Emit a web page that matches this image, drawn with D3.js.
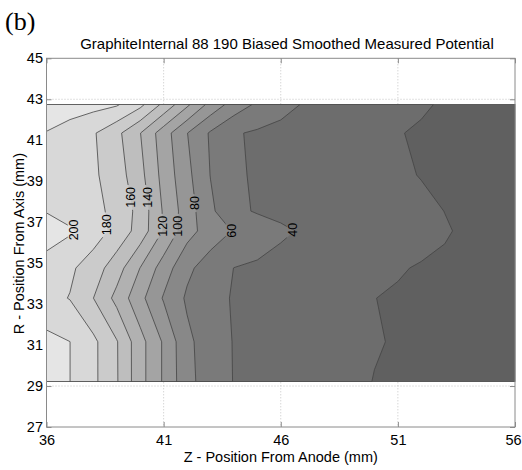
<!DOCTYPE html>
<html>
<head>
<meta charset="utf-8">
<script src="https://cdn.jsdelivr.net/npm/d3@7"></script>
<style>
  body { margin: 0; background: #fff; }
  text { font-family: "Liberation Sans", Arial, sans-serif; }
</style>
</head>
<body>
<svg id="chart"></svg>
<script>
// measurement grid: Z columns (mm from anode) and R rows (mm from axis)
const zValues = [36, 37, 38, 39, 40, 41, 42, 43, 44, 45, 46, 47, 48, 49, 50, 51, 52, 53, 54, 55, 56];
const rValues = [42.74, 41.35, 39.30, 37.54, 36.57, 34.76, 33.29, 31.16, 29.22];

// smoothed potential, one row per R value
const potential = [
  [215, 210.6, 206.3, 201.9, 185.2, 155, 123.7, 93.4, 71.4, 56.6, 46.2, 38.6, 35.2, 31.8, 28.4, 25, 21.6, 18.5, 17, 16, 15],
  [199, 190.5, 182, 165.1, 140.5, 109.3, 80.5, 57.7, 41.8, 37.5, 34.7, 31.9, 29, 26.2, 23.4, 20.6, 18.5, 17.5, 17, 16.5, 16],
  [196, 189.6, 183.2, 169.7, 146, 113.2, 85.3, 59.5, 42.8, 37.8, 35.1, 32.4, 29.7, 27, 24.3, 21.6, 19.6, 18.5, 18, 17, 16],
  [199, 192.1, 185.2, 174.9, 153, 117.7, 89.8, 63.9, 44.5, 38.3, 36, 33.7, 31.4, 29.1, 26.8, 24.6, 22.3, 19.9, 18.5, 17, 16],
  [210, 202.4, 189.8, 173.7, 151.6, 118.3, 87.7, 70.4, 58.8, 50.8, 42.7, 38.1, 35.2, 32.3, 29.5, 26.6, 23.7, 20.8, 18.4, 16.5, 14],
  [191.5, 183.4, 170, 148.9, 119.6, 90.4, 64.3, 50.4, 39.8, 37, 34.3, 31.6, 28.9, 26.2, 23.5, 20.8, 19.2, 18.5, 17.5, 16, 15],
  [186.5, 179.2, 160.1, 134.1, 105.7, 78.2, 57.1, 46, 38.6, 35.5, 32.4, 29.3, 26.2, 23.1, 20.1, 19, 18, 17, 16, 15, 14],
  [205, 200.1, 184.4, 161.3, 127.1, 97.5, 64.7, 49.1, 39.2, 36.1, 33, 29.9, 26.9, 23.8, 20.7, 19.2, 18.2, 17.2, 16.2, 15, 14],
  [205, 200.1, 184.4, 161.6, 127.1, 97.5, 66, 49.9, 39.4, 36, 32.6, 29.2, 25.8, 22.4, 19.7, 18.7, 17.8, 16.8, 16, 15, 14]
];

const levels = [20, 40, 60, 80, 100, 120, 140, 160, 180, 200];
// grey for each band: below 20, 20-40, ..., above 200
const bandColors = ['#606060', '#6d6d6d', '#7a7a7a', '#888888', '#969696', '#a4a4a4',
                    '#b1b1b1', '#bebebe', '#cbcbcb', '#d8d8d8', '#e5e5e5'];

const labelLevels = [200, 180, 160, 140, 120, 100, 80, 60, 40];
const labelR = [36.62, 36.87, 38.21, 38.21, 36.8, 36.8, 37.93, 36.58, 36.63];

const xTicks = [36, 41, 46, 51, 56];
const yTicks = [27, 29, 31, 33, 35, 37, 39, 41, 43, 45];

const W = 522, H = 470;
const plot = { left: 46.5, right: 515, top: 58.3, bottom: 427 };

const svg = d3.select('#chart').attr('width', W).attr('height', H);

const x = d3.scaleLinear().domain([36, 56]).range([plot.left, plot.right]);
const y = d3.scaleLinear().domain([27, 45]).range([plot.bottom, plot.top]);

// grid index space -> data space (d3.contours puts sample i at i + 0.5)
const colToZ = d3.scaleLinear().domain(zValues.map((d, i) => i + 0.5)).range(zValues).clamp(true);
const rowToR = d3.scaleLinear().domain(rValues.map((d, i) => i + 0.5)).range(rValues).clamp(true);

const toPx = (p) => [x(colToZ(p[0])), y(rowToR(p[1]))];
const path = d3.geoPath(d3.geoTransform({
  point(px, py) {
    const q = toPx([px, py]);
    this.stream.point(q[0], q[1]);
  }
}));

const contours = d3.contours()
  .size([zValues.length, rValues.length])
  .thresholds(levels)(potential.flat());

const dataLeft = x(zValues[0]), dataRight = x(zValues[zValues.length - 1]);
const dataTop = y(rValues[0]), dataBottom = y(rValues[rValues.length - 1]);

// axes background, grid, ticks (drawn under the filled contours)
svg.append('rect')
  .attr('x', plot.left).attr('y', plot.top)
  .attr('width', plot.right - plot.left).attr('height', plot.bottom - plot.top)
  .attr('fill', '#fff');

const gridG = svg.append('g')
  .attr('stroke', '#c4c4c4').attr('stroke-width', 1).attr('stroke-dasharray', '1,2');
gridG.selectAll('.gx').data(xTicks.slice(1, -1)).enter().append('line')
  .attr('x1', d => x(d)).attr('x2', d => x(d))
  .attr('y1', plot.top).attr('y2', plot.bottom);
gridG.selectAll('.gy').data(yTicks.slice(1, -1)).enter().append('line')
  .attr('y1', d => y(d)).attr('y2', d => y(d))
  .attr('x1', plot.left).attr('x2', plot.right);

const axisColor = '#8a8a8a';
const tickLen = 5;
const bottomAxis = d3.axisBottom(x).tickValues(xTicks).tickSizeInner(-tickLen).tickSizeOuter(0).tickPadding(8);
const topAxis = d3.axisTop(x).tickValues(xTicks).tickSizeInner(-tickLen).tickSizeOuter(0).tickFormat('');
const leftAxis = d3.axisLeft(y).tickValues(yTicks).tickSizeInner(-tickLen).tickSizeOuter(0).tickPadding(3.5);
const rightAxis = d3.axisRight(y).tickValues(yTicks).tickSizeInner(-tickLen).tickSizeOuter(0).tickFormat('');

function styleAxis(g) {
  g.select('.domain').remove();
  g.selectAll('line').attr('stroke', axisColor);
  g.selectAll('text').attr('fill', '#000').style('font-size', '14.5px')
    .style('font-family', '"Liberation Sans", Arial, sans-serif');
}

const xAxisG = svg.append('g').attr('transform', `translate(0,${plot.bottom})`).call(bottomAxis).call(styleAxis);
// last label sits on the page edge, keep it just inside
xAxisG.selectAll('.tick text').filter(d => d === xTicks[xTicks.length - 1]).attr('dx', -2);
svg.append('g').attr('transform', `translate(0,${plot.top})`).call(topAxis).call(styleAxis);
svg.append('g').attr('transform', `translate(${plot.left},0)`).call(leftAxis).call(styleAxis);
svg.append('g').attr('transform', `translate(${plot.right},0)`).call(rightAxis).call(styleAxis);

// filled contours
const fillG = svg.append('g');
fillG.append('rect')
  .attr('x', dataLeft).attr('y', dataTop)
  .attr('width', dataRight - dataLeft).attr('height', dataBottom - dataTop)
  .attr('fill', bandColors[0]);
fillG.selectAll('path').data(contours).enter().append('path')
  .attr('d', path)
  .attr('fill', (d, i) => bandColors[i + 1]);

// contour lines without the pieces that run along the data border
const near = (a, b) => Math.abs(a - b) < 1e-6;
function onBorder(a, b) {
  return (near(a[0], dataLeft) && near(b[0], dataLeft)) ||
         (near(a[0], dataRight) && near(b[0], dataRight)) ||
         (near(a[1], dataTop) && near(b[1], dataTop)) ||
         (near(a[1], dataBottom) && near(b[1], dataBottom));
}
function linePath(c) {
  let d = '';
  c.coordinates.forEach(poly => poly.forEach(ring => {
    const pts = ring.map(toPx);
    let open = false;
    for (let i = 1; i < pts.length; i++) {
      const a = pts[i - 1], b = pts[i];
      if (onBorder(a, b)) { open = false; continue; }
      if (!open) { d += `M${a[0]},${a[1]}`; open = true; }
      d += `L${b[0]},${b[1]}`;
    }
  }));
  return d;
}

// mask that opens gaps in the lines where the labels sit
const defs = svg.append('defs');
const mask = defs.append('mask').attr('id', 'label-gaps')
  .attr('maskUnits', 'userSpaceOnUse')
  .attr('x', 0).attr('y', 0).attr('width', W).attr('height', H);
mask.append('rect').attr('x', 0).attr('y', 0).attr('width', W).attr('height', H).attr('fill', '#fff');

const lineColor = '#444';
const lineG = svg.append('g').attr('mask', 'url(#label-gaps)');
lineG.selectAll('path').data(contours).enter().append('path')
  .attr('d', linePath)
  .attr('fill', 'none')
  .attr('stroke', lineColor)
  .attr('stroke-width', 0.8)
  .attr('stroke-linejoin', 'round');

// outline of the measured area
svg.append('rect')
  .attr('x', dataLeft).attr('y', dataTop)
  .attr('width', dataRight - dataLeft).attr('height', dataBottom - dataTop)
  .attr('fill', 'none').attr('stroke', lineColor).attr('stroke-width', 0.8);

// contour labels: put each one where its line crosses the chosen R
function crossingX(level, r) {
  const c = contours.find(d => d.value === level);
  const yy = y(r);
  let best = -Infinity;
  c.coordinates.forEach(poly => poly.forEach(ring => {
    for (let i = 1; i < ring.length; i++) {
      const a = toPx(ring[i - 1]), b = toPx(ring[i]);
      if ((a[1] - yy) * (b[1] - yy) <= 0 && a[1] !== b[1]) {
        const t = (yy - a[1]) / (b[1] - a[1]);
        const xx = a[0] + t * (b[0] - a[0]);
        if (xx > plot.left + 1 && xx < plot.right - 1) best = Math.max(best, xx);
      }
    }
  }));
  return [best, yy];
}

const labelFont = 12.5;
const labelG = svg.append('g');
labelLevels.forEach((lv, i) => {
  const [lx, ly] = crossingX(lv, labelR[i]);
  const t = labelG.append('text')
    .attr('transform', `translate(${lx},${ly}) rotate(-90)`)
    .attr('text-anchor', 'middle')
    .attr('dy', '0.35em')
    .style('font-size', labelFont + 'px')
    .attr('fill', '#000')
    .text(lv);
  const len = t.node().getComputedTextLength();
  mask.append('rect')
    .attr('x', lx - labelFont * 0.45).attr('y', ly - len / 2 - 2)
    .attr('width', labelFont * 0.9).attr('height', len + 4)
    .attr('fill', '#000');
});

// axes box on top
svg.append('rect')
  .attr('x', plot.left).attr('y', plot.top)
  .attr('width', plot.right - plot.left).attr('height', plot.bottom - plot.top)
  .attr('fill', 'none').attr('stroke', axisColor).attr('stroke-width', 1);

// titles
svg.append('text')
  .attr('x', 287).attr('y', 49)
  .attr('text-anchor', 'middle')
  .style('font-size', '15px')
  .text('GraphiteInternal 88 190 Biased Smoothed Measured Potential');

svg.append('text')
  .attr('x', (plot.left + plot.right) / 2).attr('y', 462)
  .attr('text-anchor', 'middle')
  .style('font-size', '14.5px')
  .text('Z - Position From Anode (mm)');

svg.append('text')
  .attr('transform', `translate(24,${(plot.top + plot.bottom) / 2 + 1}) rotate(-90)`)
  .attr('text-anchor', 'middle')
  .style('font-size', '14.5px')
  .text('R - Position From Axis (mm)');

svg.append('text')
  .attr('x', 5).attr('y', 30)
  .style('font-family', '"Liberation Serif", "Times New Roman", serif')
  .style('font-size', '26px')
  .text('(b)');
</script>
</body>
</html>
